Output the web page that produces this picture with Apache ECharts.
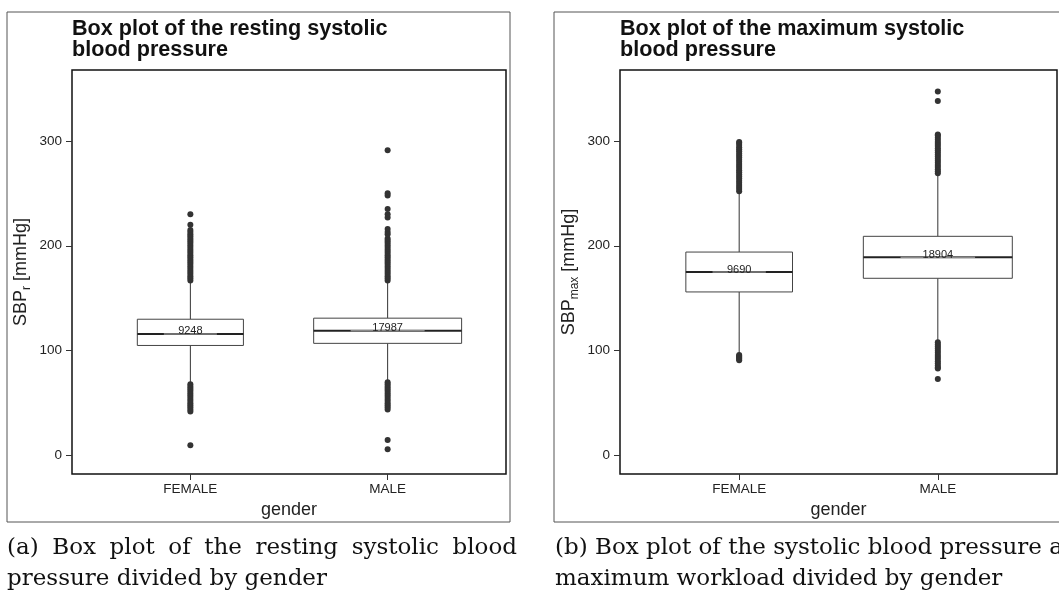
<!DOCTYPE html>
<html>
<head>
<meta charset="utf-8">
<script src="https://cdn.jsdelivr.net/npm/echarts@6.0.0/dist/echarts.min.js"></script>
<style>
html,body{margin:0;padding:0;background:#fff;}
#chart{width:1059px;height:595px;}
</style>
</head>
<body>
<div id="chart"></div>
<script>
// ---------------- data ----------------
const categories = ['FEMALE', 'MALE'];
const yTicks = [0, 100, 200, 300];

// resting systolic blood pressure: [whisker low, Q1, median, Q3, whisker high]
const restBox = [
  [69, 105, 116, 130, 166],
  [71, 107, 119, 131, 166]
];
const restCounts = [9248, 17987];
const restOutFemale = [167, 169, 171, 173, 175, 177, 179, 181, 183, 185, 187, 189, 191, 193, 195, 197, 199, 201, 203, 205, 207, 209, 211, 213, 215, 220, 230,
  68, 66, 64, 62, 60, 58, 56, 54, 52, 50, 48, 46, 44, 42, 10];
const restOutMale = [167, 169, 171, 173, 175, 177, 179, 181, 183, 185, 187, 189, 191, 193, 195, 197, 199, 201, 203, 205, 207, 211, 213, 216, 227, 230, 235, 248, 250, 291,
  70, 68, 66, 64, 62, 60, 58, 56, 54, 52, 50, 48, 46, 44, 15, 6];

// systolic blood pressure at maximum workload
const maxBox = [
  [97, 156, 175, 194, 250],
  [110, 169, 189, 209, 268]
];
const maxCounts = [9690, 18904];
const maxOutFemale = [252, 254, 256, 258, 260, 262, 264, 266, 268, 270, 272, 274, 276, 278, 280, 282, 284, 286, 288, 290, 292, 294, 296, 298, 299,
  96, 95, 94, 93, 92, 91];
const maxOutMale = [269, 271, 273, 275, 277, 279, 281, 283, 285, 287, 289, 291, 293, 295, 297, 299, 301, 303, 305, 306, 338, 347,
  108, 106, 104, 102, 100, 98, 96, 94, 92, 90, 88, 86, 84, 83, 73];

// ---------------- helpers ----------------
const SANS = '"Liberation Sans", Arial, sans-serif';
const SERIF = '"DejaVu Serif", serif';

function boxData(boxes, counts) {
  const maxN = Math.max.apply(null, counts);
  return boxes.map((b, i) => [i + 1, b[0], b[1], b[2], b[3], b[4], 0.75 * Math.sqrt(counts[i] / maxN), counts[i]]);
}
function outData(female, male) {
  return female.map(v => [1, v]).concat(male.map(v => [2, v]));
}

function renderBox(params, api) {
  const x = api.value(0);
  const pLo = api.coord([x, api.value(1)]);
  const pQ1 = api.coord([x, api.value(2)]);
  const pMed = api.coord([x, api.value(3)]);
  const pQ3 = api.coord([x, api.value(4)]);
  const pHi = api.coord([x, api.value(5)]);
  const bw = api.size([api.value(6), 0])[0];
  const cx = pMed[0];
  const n = api.value(7);
  return {
    type: 'group',
    children: [
      { type: 'line', shape: { x1: cx, y1: pQ3[1], x2: cx, y2: pHi[1] }, style: { stroke: '#333', lineWidth: 1 } },
      { type: 'line', shape: { x1: cx, y1: pQ1[1], x2: cx, y2: pLo[1] }, style: { stroke: '#333', lineWidth: 1 } },
      { type: 'rect', shape: { x: cx - bw / 2, y: pQ3[1], width: bw, height: pQ1[1] - pQ3[1] }, style: { fill: '#fff', stroke: '#444', lineWidth: 1 } },
      { type: 'line', shape: { x1: cx - bw / 2, y1: pMed[1], x2: cx + bw / 2, y2: pMed[1] }, style: { stroke: '#222', lineWidth: 2 } },
      { type: 'line', shape: { x1: cx - bw / 4, y1: pMed[1], x2: cx + bw / 4, y2: pMed[1] }, style: { stroke: '#8a8a8a', lineWidth: 1.5 } },
      { type: 'text', style: { text: String(n), x: cx, y: pMed[1] - 2.5, align: 'center', verticalAlign: 'middle', fontSize: 11, fontFamily: SANS, fill: '#222' } }
    ]
  };
}

function xAxisFor(gi) {
  return {
    gridIndex: gi, type: 'value', min: 0.4, max: 2.6, position: 'bottom',
    axisLine: { show: false, onZero: false }, splitLine: { show: false },
    axisTick: { show: true, inside: false, customValues: [1, 2], length: 6, lineStyle: { color: '#333', width: 1 } },
    axisLabel: { customValues: [1, 2], formatter: v => categories[Math.round(v) - 1], color: '#222', fontSize: 13.5, fontFamily: SANS, margin: 8 },
    name: 'gender', nameLocation: 'middle', nameGap: 25,
    nameTextStyle: { fontSize: 18, fontFamily: SANS, color: '#222' }
  };
}
function yAxisFor(gi, sub) {
  return {
    gridIndex: gi, type: 'value', min: -17.5, max: 367.5, position: 'left',
    axisLine: { show: false, onZero: false }, splitLine: { show: false },
    axisTick: { show: true, inside: false, customValues: yTicks, length: 6, lineStyle: { color: '#333', width: 1 } },
    axisLabel: { customValues: yTicks, color: '#222', fontSize: 13.5, fontFamily: SANS, margin: 10 },
    name: '{a|SBP}{s|' + sub + '}{a| [mmHg]}', nameLocation: 'middle', nameGap: 39, nameRotate: 90,
    nameTextStyle: {
      color: '#222', fontFamily: SANS,
      rich: {
        a: { fontSize: 18, lineHeight: 24, fontFamily: SANS, color: '#222' },
        s: { fontSize: 12, lineHeight: 12, verticalAlign: 'bottom', fontFamily: SANS, color: '#222' }
      }
    }
  };
}

// caption words (justified first line of caption a)
const measureCtx = document.createElement('canvas').getContext('2d');
function justifiedLine(text, x0, width, y, size) {
  measureCtx.font = size + 'px ' + SERIF;
  const words = text.split(' ');
  const widths = words.map(w => measureCtx.measureText(w).width);
  const total = widths.reduce((a, b) => a + b, 0);
  const gap = words.length > 1 ? (width - total) / (words.length - 1) : 0;
  let x = x0;
  return words.map((w, i) => {
    const el = { type: 'text', left: x, top: y, style: { text: w, fontSize: size, fontFamily: SERIF, fill: '#111' } };
    x += widths[i] + gap;
    return el;
  });
}

const CAP = 23;
const CAP1 = 537, CAP2 = 568;
const graphics = [
  { type: 'rect', shape: { x: 7, y: 12, width: 503, height: 510 }, style: { fill: 'none', stroke: '#555', lineWidth: 1 }, z: -1 },
  { type: 'rect', shape: { x: 554, y: 12, width: 530, height: 510 }, style: { fill: 'none', stroke: '#555', lineWidth: 1 }, z: -1 }
].concat(justifiedLine('(a) Box plot of the resting systolic blood', 7, 510, CAP1, CAP))
 .concat([
  { type: 'text', left: 7, top: CAP2, style: { text: 'pressure divided by gender', fontSize: CAP, fontFamily: SERIF, fill: '#111' } },
  { type: 'text', left: 555, top: CAP1, style: { text: '(b) Box plot of the systolic blood pressure at', fontSize: CAP, fontFamily: SERIF, fill: '#111' } },
  { type: 'text', left: 555, top: CAP2, style: { text: 'maximum workload divided by gender', fontSize: CAP, fontFamily: SERIF, fill: '#111' } }
]);

const titleStyle = { fontSize: 21.6, fontWeight: 'bold', fontFamily: SANS, color: '#111', lineHeight: 21 };

const option = {
  animation: false,
  backgroundColor: '#fff',
  title: [
    { text: 'Box plot of the resting systolic\nblood pressure', left: 72, top: 19, padding: 0, textStyle: titleStyle },
    { text: 'Box plot of the maximum systolic\nblood pressure', left: 620, top: 19, padding: 0, textStyle: titleStyle }
  ],
  grid: [
    { left: 72, top: 70, width: 434, height: 404, show: true, borderColor: '#111', borderWidth: 1.5, backgroundColor: 'transparent' },
    { left: 620, top: 70, width: 437, height: 404, show: true, borderColor: '#111', borderWidth: 1.5, backgroundColor: 'transparent' }
  ],
  xAxis: [xAxisFor(0), xAxisFor(1)],
  yAxis: [yAxisFor(0, 'r'), yAxisFor(1, 'max')],
  series: [
    { type: 'custom', xAxisIndex: 0, yAxisIndex: 0, renderItem: renderBox, data: boxData(restBox, restCounts), z: 2 },
    { type: 'custom', xAxisIndex: 1, yAxisIndex: 1, renderItem: renderBox, data: boxData(maxBox, maxCounts), z: 2 },
    { type: 'scatter', xAxisIndex: 0, yAxisIndex: 0, symbol: 'circle', symbolSize: 6, itemStyle: { color: '#333', opacity: 1 }, data: outData(restOutFemale, restOutMale), z: 3 },
    { type: 'scatter', xAxisIndex: 1, yAxisIndex: 1, symbol: 'circle', symbolSize: 6, itemStyle: { color: '#333', opacity: 1 }, data: outData(maxOutFemale, maxOutMale), z: 3 }
  ],
  graphic: graphics
};

const chart = echarts.init(document.getElementById('chart'), null, { renderer: 'canvas' });
chart.setOption(option);
</script>
</body>
</html>
